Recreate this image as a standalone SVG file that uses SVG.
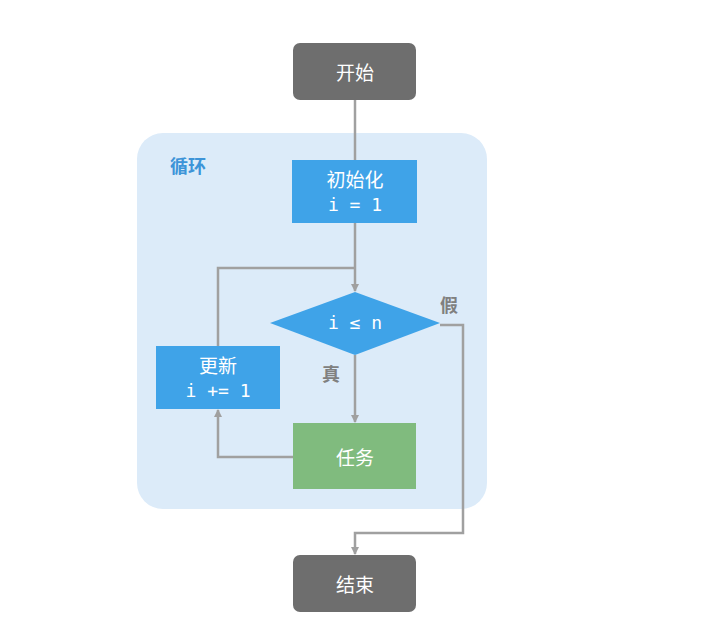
<svg xmlns="http://www.w3.org/2000/svg" width="714" height="644" viewBox="0 0 714 644">
<style>
text{font-family:"Noto Sans CJK SC","Noto Sans",sans-serif;fill:#fff;text-anchor:middle;dominant-baseline:central;font-size:19px}
.mono{font-family:"DejaVu Sans Mono","Noto Sans CJK SC",monospace;font-size:18px}
.blue{fill:#3fa3e8}
.lbl{fill:#808080;font-weight:bold;font-size:18px}
.c{fill:none;stroke:#a0a0a0;stroke-width:2.5}
</style>
<defs><marker id="a" markerWidth="8" markerHeight="8" refX="7" refY="4" orient="auto" markerUnits="userSpaceOnUse"><path d="M0,0L8,4L0,8Z" fill="#a0a0a0"/></marker></defs>
<rect width="714" height="644" fill="#fff"/>
<g id="loop"><rect x="137" y="133" width="350" height="376" rx="26" fill="#dcebf9"/><text x="188" y="165" style="fill:#3d94d8;font-weight:bold;font-size:18px">循环</text></g>
<g id="connectors">
<path class="c" d="M355,100V160"/>
<path class="c" d="M355,223V291" marker-end="url(#a)"/>
<path class="c" d="M218,346V268H355"/>
<path class="c" d="M355,355V422" marker-end="url(#a)"/>
<path class="c" d="M293,457H218V410" marker-end="url(#a)"/>
<path class="c" d="M440,325H463V533H355V554" marker-end="url(#a)"/>
</g>
<g id="start"><rect x="293" y="43" width="123" height="57" rx="7" fill="#6e6e6e"/><text x="355" y="71">开始</text></g>
<g id="init"><rect x="292" y="160" width="125" height="63" class="blue"/><text x="355" y="178">初始化</text><text class="mono" x="355" y="204">i = 1</text></g>
<g id="cond"><polygon points="355,292 440,323 355,355 270,323" class="blue"/><text class="mono" x="355" y="322">i ≤ n</text></g>
<g id="update"><rect x="156" y="346" width="124" height="63" class="blue"/><text x="218" y="364">更新</text><text class="mono" x="218" y="390">i += 1</text></g>
<g id="task"><rect x="293" y="423" width="123" height="66" fill="#80bb7e"/><text x="355" y="456">任务</text></g>
<g id="end"><rect x="293" y="555" width="123" height="57" rx="7" fill="#6e6e6e"/><text x="355" y="583">结束</text></g>
<text class="lbl" x="449" y="304">假</text>
<text class="lbl" x="331" y="373">真</text>
</svg>
